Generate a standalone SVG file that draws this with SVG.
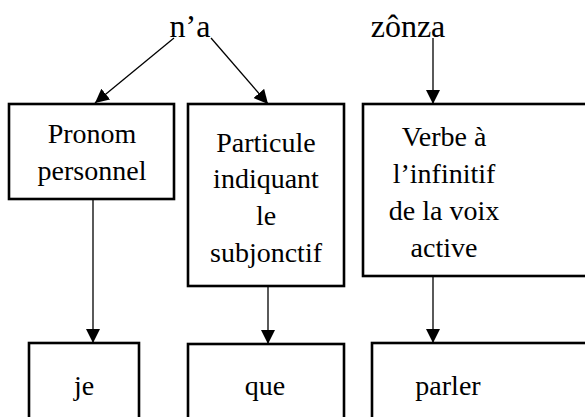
<svg xmlns="http://www.w3.org/2000/svg" width="585" height="417" viewBox="0 0 585 417">
<style>
.box{fill:#fff;stroke:#000;stroke-width:2.6}
.t{font-family:"Liberation Serif","Times New Roman",serif;font-size:28px;fill:#000;text-anchor:middle}
.lbl{font-family:"Liberation Serif","Times New Roman",serif;font-size:32px;fill:#000;text-anchor:middle}
.c{fill:none;stroke:#000;stroke-width:1.3}
</style>
<defs>
<marker id="ah" markerUnits="userSpaceOnUse" markerWidth="16" markerHeight="16" refX="14" refY="7" orient="auto">
<path d="M0,0 L14,7 L0,14 Z" fill="#000"/>
</marker>
</defs>
<rect width="585" height="417" fill="#fff"/>
<g id="label-na"><text class="lbl" x="190" y="37">n’a</text></g>
<g id="label-zonza"><text class="lbl" x="408" y="37">zônza</text></g>
<g id="connectors">
<path class="c" d="M174,38 L95,103" marker-end="url(#ah)"/>
<path class="c" d="M211,38 L268,104" marker-end="url(#ah)"/>
<path class="c" d="M433,38 L433,104" marker-end="url(#ah)"/>
<path class="c" d="M93,200 L93,343" marker-end="url(#ah)"/>
<path class="c" d="M268,287 L268,344" marker-end="url(#ah)"/>
<path class="c" d="M433,277 L433,343" marker-end="url(#ah)"/>
</g>
<g id="box-pronom">
<rect class="box" x="9" y="104" width="165" height="95"/>
<text class="t" x="92" y="143">Pronom</text>
<text class="t" x="92" y="180">personnel</text>
</g>
<g id="box-particule">
<rect class="box" x="188" y="104" width="156" height="182"/>
<text class="t" x="266" y="152">Particule</text>
<text class="t" x="266" y="188">indiquant</text>
<text class="t" x="266" y="225">le</text>
<text class="t" x="266" y="262">subjonctif</text>
</g>
<g id="box-verbe">
<rect class="box" x="363" y="104" width="230" height="172"/>
<text class="t" x="444" y="146">Verbe à</text>
<text class="t" x="444" y="183">l’infinitif</text>
<text class="t" x="444" y="220">de la voix</text>
<text class="t" x="444" y="257">active</text>
</g>
<g id="box-je">
<rect class="box" x="29" y="343" width="110" height="80"/>
<text class="t" x="84" y="395">je</text>
</g>
<g id="box-que">
<rect class="box" x="188" y="344" width="156" height="80"/>
<text class="t" x="265" y="395">que</text>
</g>
<g id="box-parler">
<rect class="box" x="372" y="343" width="220" height="80"/>
<text class="t" x="448" y="395">parler</text>
</g>
</svg>
